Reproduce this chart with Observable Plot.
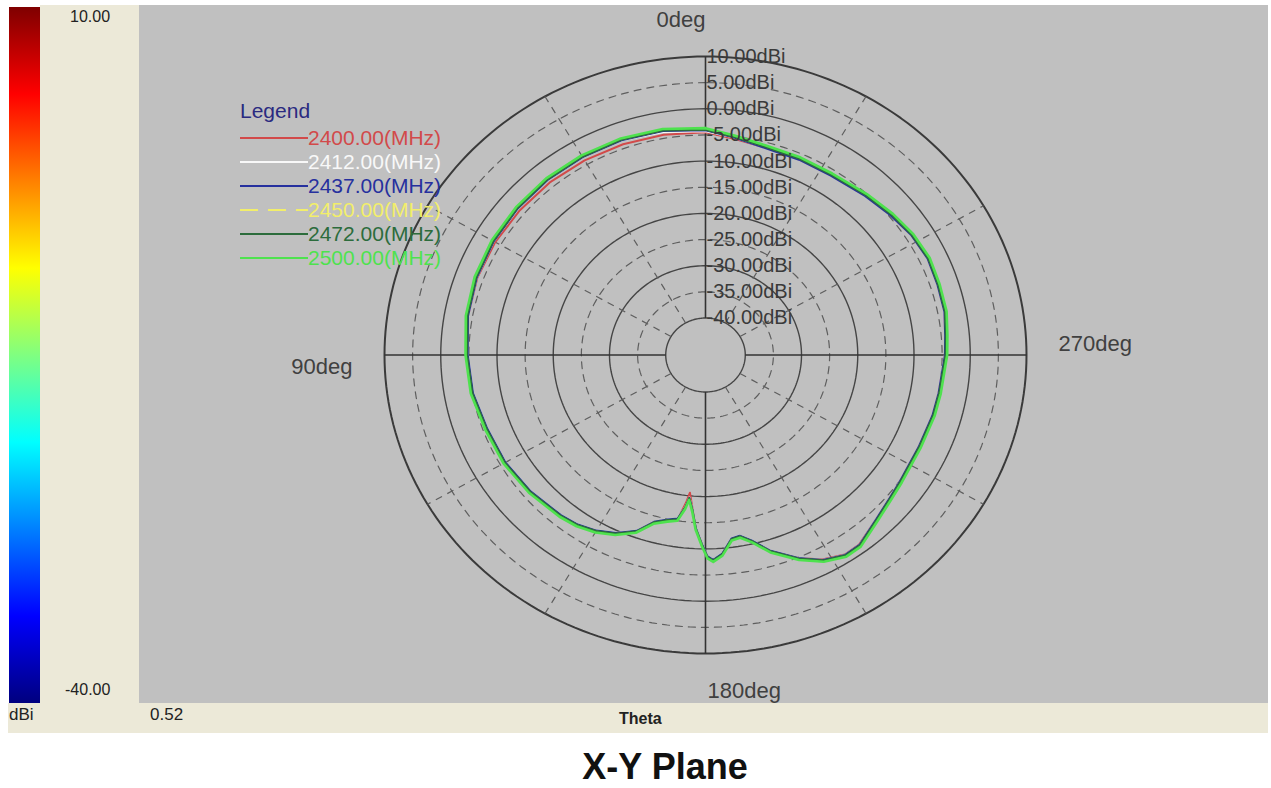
<!DOCTYPE html>
<html><head><meta charset="utf-8">
<script src="https://cdn.jsdelivr.net/npm/d3@7"></script>
<script src="https://cdn.jsdelivr.net/npm/@observablehq/plot@0.6"></script>
<style>
body{margin:0;background:#fff;font-family:"Liberation Sans",Arial,sans-serif;}
#page{position:relative;width:1271px;height:788px;overflow:hidden;background:#fff;}
.abs{position:absolute;white-space:nowrap;}
</style></head><body><div id="page"></div>
<script>
// ---- data ----
const angles = [0,10,20,30,40,50,60,70,80,90,100,110,120,130,140,145,150,155,160,164,168,171,173,174,175.5,177,179,180.5,182,184.5,187.5,190,193,197,203,208,213,217,224,230,235,245,254,260,270,275,281,288,295,302,309,317,327,336,345,353,360];
const s2400 = [-4.5,-4.3,-4.2,-4.1,-4.0,-4.0,-3.9,-3.9,-4.2,-4.7,-5.0,-5.6,-5.8,-6.3,-6.9,-7.4,-8.3,-9.4,-11.2,-13.8,-14.6,-15.2,-18.6,-20.6,-17.6,-13.9,-10.6,-8.4,-7.7,-8.9,-11.6,-11.9,-10.6,-7.9,-4.9,-2.8,-1.6,-1.7,-3.4,-4.4,-4.9,-5.3,-5.1,-5.0,-4.5,-4.3,-3.8,-3.7,-3.5,-3.9,-4.6,-5.4,-6.1,-6.1,-6.0,-5.4,-4.5];
const s2412 = [-4.3,-3.8,-3.4,-3.4,-3.4,-3.5,-3.6,-3.8,-4.2,-4.8,-5.1,-5.8,-6.0,-6.5,-7.1,-7.5,-8.3,-9.5,-11.3,-13.8,-14.9,-15.4,-17.9,-19.7,-17.5,-14.0,-10.9,-8.6,-7.9,-9.0,-11.7,-12.0,-10.7,-8.0,-4.9,-2.7,-1.5,-1.6,-3.4,-4.4,-4.9,-5.3,-5.1,-5.0,-4.5,-4.3,-3.8,-3.7,-3.5,-3.9,-4.6,-5.4,-6.1,-6.1,-6.0,-5.2,-4.3];
const s2437 = [-4.1,-3.6,-3.4,-3.4,-3.4,-3.5,-3.6,-3.8,-4.2,-4.8,-5.1,-5.8,-6.0,-6.5,-7.1,-7.5,-8.3,-9.5,-11.3,-13.9,-14.9,-15.4,-17.8,-19.6,-17.4,-14.0,-10.9,-8.6,-7.9,-9.0,-11.7,-12.0,-10.7,-8.0,-4.9,-2.7,-1.5,-1.6,-3.4,-4.4,-4.9,-5.3,-5.1,-5.0,-4.5,-4.3,-3.8,-3.7,-3.5,-3.9,-4.7,-5.5,-6.2,-6.2,-6.1,-5.2,-4.1];
const s2450 = [-3.9,-3.4,-3.2,-3.2,-3.2,-3.3,-3.4,-3.6,-4.0,-4.6,-4.9,-5.6,-5.8,-6.3,-6.9,-7.3,-8.1,-9.3,-11.1,-13.7,-14.7,-15.2,-17.6,-19.4,-17.2,-13.8,-10.7,-8.4,-7.7,-8.8,-11.5,-11.8,-10.5,-7.8,-4.7,-2.5,-1.3,-1.4,-3.2,-4.2,-4.7,-5.1,-4.9,-4.8,-4.3,-4.1,-3.6,-3.5,-3.3,-3.7,-4.4,-5.2,-5.9,-5.9,-5.8,-5.0,-3.9];
const s2472 = [-4.0,-3.5,-3.3,-3.3,-3.3,-3.4,-3.5,-3.7,-4.1,-4.7,-5.0,-5.7,-5.9,-6.4,-7.0,-7.4,-8.2,-9.4,-11.2,-13.8,-14.8,-15.3,-17.8,-19.6,-17.4,-13.9,-10.8,-8.5,-7.8,-8.9,-11.6,-11.9,-10.6,-7.9,-4.8,-2.6,-1.4,-1.5,-3.3,-4.3,-4.8,-5.2,-5.0,-4.9,-4.4,-4.2,-3.7,-3.6,-3.4,-3.8,-4.5,-5.3,-6.0,-6.0,-5.9,-5.1,-4.0];
const s2500 = [-3.7,-3.2,-3.0,-3.0,-3.0,-3.1,-3.2,-3.4,-3.8,-4.4,-4.7,-5.4,-5.6,-6.1,-6.7,-7.1,-7.9,-9.1,-10.9,-13.5,-14.5,-15.0,-17.4,-19.2,-17.0,-13.6,-10.5,-8.2,-7.5,-8.6,-11.3,-11.6,-10.3,-7.6,-4.5,-2.3,-1.1,-1.2,-3.0,-4.0,-4.5,-4.9,-4.7,-4.6,-4.1,-3.9,-3.4,-3.3,-3.1,-3.5,-4.2,-5.0,-5.7,-5.7,-5.6,-4.8,-3.7];
const freqLabels = ["2400.00(MHz)","2412.00(MHz)","2437.00(MHz)","2450.00(MHz)","2472.00(MHz)","2500.00(MHz)"];
const seriesColors = ["#d24a4a","#f8f8f8","#26309e","#f2ee6a","#2c6c3c","#4ee24e"];
const seriesDash = [null,null,null,"16,8",null,null];
const ringValues = [10,5,0,-5,-10,-15,-20,-25,-30,-35,-40];
const ringLabels = ["10.00dBi","5.00dBi","0.00dBi","-5.00dBi","-10.00dBi","-15.00dBi","-20.00dBi","-25.00dBi","-30.00dBi","-35.00dBi","-40.00dBi"];
const spokeAngles = [30,60,120,150,210,240,300,330];
const axisAngles = [0,90,180,270];
const degLabels = ["0deg","90deg","180deg","270deg"];
const barTicks = ["10.00","-40.00"];
const barUnit = "dBi";
const cornerValue = "0.52";
const axisName = "Theta";
const title = "X-Y Plane";
const seriesValues = [s2400,s2412,s2437,s2450,s2472,s2500];

// ---- polar geometry (radius is linear in dBi, -40 ring sits off-centre) ----
const R0 = 47.07;
const RMAX = 10 + R0;
const rad = d => d * Math.PI / 180;
const px = (deg, v) => -(v + R0) * Math.sin(rad(deg));
const py = (deg, v) => (v + R0) * Math.cos(rad(deg));

const page = document.getElementById("page");
function div(style, text) {
  const e = document.createElement("div");
  e.className = "abs";
  Object.assign(e.style, style);
  if (text != null) e.textContent = text;
  page.appendChild(e);
  return e;
}

// panels
div({left:"8px", top:"703px", width:"1260px", height:"30px", background:"#ece9d8"});
div({left:"40px", top:"5px", width:"99px", height:"698px", background:"#ece9d8"});
div({left:"9px", top:"7px", width:"31px", height:"696px",
  background:"linear-gradient(to bottom,#7f0000 0%,#ff0000 12.5%,#ff8000 25%,#ffff00 37.5%,#80ff80 50%,#00ffff 62.5%,#0080ff 75%,#0000ff 87.5%,#00007f 100%)"});

// colour-bar texts
const smallTxt = {fontSize:"16px", color:"#222", lineHeight:"20px"};
div({...smallTxt, left:"70px", top:"7px"}, barTicks[0]);
div({...smallTxt, left:"65px", top:"680px"}, barTicks[1]);
div({...smallTxt, left:"9px", top:"705px", fontSize:"17px"}, barUnit);
div({...smallTxt, left:"150px", top:"705px", fontSize:"17px"}, cornerValue);
div({...smallTxt, left:"619px", top:"709px", fontSize:"16px", fontWeight:"bold"}, axisName);

// title
div({left:"0px", width:"1330px", top:"746px", textAlign:"center", fontSize:"36px", fontWeight:"bold", color:"#111", lineHeight:"42px"}, title);

// ---- polar plot ----
const ringPts = [];
for (const v of ringValues) for (const a of d3.range(0, 360.01, 1.5)) ringPts.push({v, a});
const solidRings = ringPts.filter(d => d.v % 10 === 0 && d.v !== 10);
const dashedRings = ringPts.filter(d => d.v % 10 !== 0);
const outerRing = ringPts.filter(d => d.v === 10);

const lineMarks = seriesValues.map((vals, i) =>
  Plot.line(angles.map((a, j) => ({a, v: vals[j]})), {
    x: d => px(d.a, d.v), y: d => py(d.a, d.v),
    stroke: seriesColors[i], strokeWidth: i === 5 ? 2.6 : 2,
    strokeDasharray: seriesDash[i] || undefined, curve: "linear"
  })
);

const ringLabelData = ringValues.map((v, i) => ({v, t: ringLabels[i]}));
const txtStyle = {fontSize: 20, fill: "#3a3a3a", fontFamily: "Liberation Sans, Arial, sans-serif"};

const chart = Plot.plot({
  width: 1129, height: 698,
  marginTop: 0, marginBottom: 0, marginLeft: 0, marginRight: 0,
  x: {domain: [-RMAX, RMAX], range: [245, 887], axis: null},
  y: {domain: [-RMAX, RMAX], range: [648, 51], axis: null},
  style: {background: "#c0c0c0", overflow: "hidden", fontFamily: "Liberation Sans, Arial, sans-serif"},
  marks: [
    Plot.line(dashedRings, {x: d => px(d.a, d.v), y: d => py(d.a, d.v), z: "v", stroke: "#5e5e5e", strokeWidth: 1.2, strokeDasharray: "7,6"}),
    Plot.line(solidRings, {x: d => px(d.a, d.v), y: d => py(d.a, d.v), z: "v", stroke: "#454545", strokeWidth: 1.4}),
    Plot.line(outerRing, {x: d => px(d.a, d.v), y: d => py(d.a, d.v), stroke: "#3a3a3a", strokeWidth: 2}),
    Plot.link(spokeAngles, {x1: a => px(a, -40), y1: a => py(a, -40), x2: a => px(a, 10), y2: a => py(a, 10), stroke: "#5e5e5e", strokeWidth: 1.2, strokeDasharray: "7,6"}),
    Plot.link(axisAngles, {x1: a => px(a, -40), y1: a => py(a, -40), x2: a => px(a, 10), y2: a => py(a, 10), stroke: "#333", strokeWidth: 1.6}),
    ...lineMarks,
    Plot.text(ringLabelData, {x: 0, y: d => d.v + R0, text: "t", textAnchor: "start", dx: 1, ...txtStyle}),
    Plot.text([degLabels[0]], {x: px(0, 10), y: py(0, 10), text: d => d, textAnchor: "end", dy: -37, fontSize: 22, fill: "#404040"}),
    Plot.text([degLabels[1]], {x: px(90, 10), y: py(90, 10), text: d => d, textAnchor: "end", dx: -32, dy: 12, fontSize: 22, fill: "#404040"}),
    Plot.text([degLabels[2]], {x: px(180, 10), y: py(180, 10), text: d => d, textAnchor: "start", dx: 2, dy: 37, fontSize: 22, fill: "#404040"}),
    Plot.text([degLabels[3]], {x: px(270, 10), y: py(270, 10), text: d => d, textAnchor: "start", dx: 32, dy: -11, fontSize: 22, fill: "#404040"})
  ]
});
const holder = div({left:"139px", top:"5px", width:"1129px", height:"698px", overflow:"hidden"});
holder.appendChild(chart);

// ---- legend ----
div({left:"240px", top:"99px", fontSize:"21px", color:"#2a2a80", lineHeight:"24px"}, "Legend");
freqLabels.forEach((lab, i) => {
  const row = div({left:"240px", top:(126 + 24 * i) + "px", height:"24px", lineHeight:"24px", fontSize:"21px", color: seriesColors[i], display:"flex", alignItems:"center"});
  const svgNS = "http://www.w3.org/2000/svg";
  const s = document.createElementNS(svgNS, "svg");
  s.setAttribute("width", "68"); s.setAttribute("height", "24");
  const l = document.createElementNS(svgNS, "line");
  l.setAttribute("x1", "0"); l.setAttribute("x2", "68"); l.setAttribute("y1", "12"); l.setAttribute("y2", "12");
  l.setAttribute("stroke", seriesColors[i]); l.setAttribute("stroke-width", "2");
  if (seriesDash[i]) l.setAttribute("stroke-dasharray", "18,10");
  s.appendChild(l); row.appendChild(s);
  const sp = document.createElement("span"); sp.textContent = lab; row.appendChild(sp);
});
</script></body></html>
